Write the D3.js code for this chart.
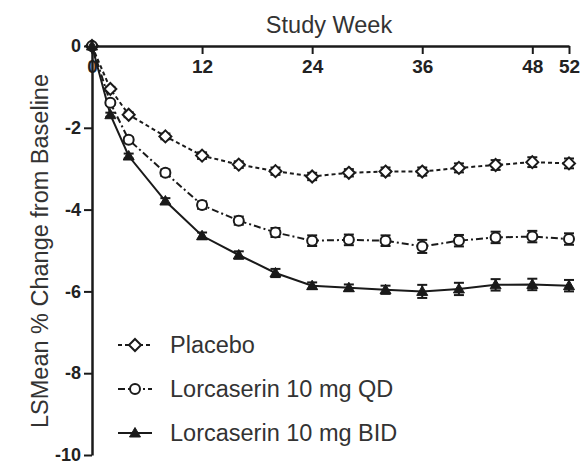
<!DOCTYPE html>
<html>
<head>
<meta charset="utf-8">
<script src="https://cdn.jsdelivr.net/npm/d3@7"></script>
<style>
  html, body { margin: 0; padding: 0; background: #fff; }
  svg { display: block; }
  text { font-family: "Liberation Sans", Arial, Helvetica, sans-serif; }
</style>
</head>
<body>
<svg id="chart" width="582" height="464"></svg>
<script>
// Study weeks at which the LS mean change was reported
const weeks = [0, 2, 4, 8, 12, 16, 20, 24, 28, 32, 36, 40, 44, 48, 52];

// LS mean % change from baseline, per treatment arm
const placebo = [0, -1.05, -1.68, -2.21, -2.68, -2.90, -3.06, -3.19, -3.10, -3.07, -3.07, -2.98, -2.91, -2.84, -2.87];
const qd      = [0, -1.39, -2.29, -3.10, -3.89, -4.27, -4.56, -4.76, -4.74, -4.76, -4.90, -4.76, -4.68, -4.66, -4.72];
const bid     = [0, -1.68, -2.69, -3.79, -4.64, -5.11, -5.55, -5.86, -5.91, -5.96, -6.00, -5.94, -5.84, -5.83, -5.86];

// Standard errors for the error bars
const placeboSE = [0, 0.05, 0.06, 0.07, 0.08, 0.08, 0.09, 0.09, 0.09, 0.10, 0.10, 0.11, 0.12, 0.12, 0.12];
const qdSE      = [0, 0.05, 0.06, 0.08, 0.09, 0.10, 0.11, 0.13, 0.13, 0.13, 0.16, 0.14, 0.14, 0.14, 0.14];
const bidSE     = [0, 0.05, 0.06, 0.07, 0.08, 0.09, 0.10, 0.08, 0.08, 0.10, 0.16, 0.15, 0.14, 0.14, 0.14];

const seriesNames = ["Placebo", "Lorcaserin 10 mg QD", "Lorcaserin 10 mg BID"];
const xTicks = [0, 12, 24, 36, 48, 52];
const yTicks = [0, -2, -4, -6, -8, -10];

const xTitle = "Study Week";
const yTitle = "LSMean % Change from  Baseline";

const svg = d3.select("#chart");
const ink = "#1a1a1a";

const x = d3.scaleLinear().domain([0, 52]).range([92, 569]);
const y = d3.scaleLinear().domain([0, -10]).range([46, 455]);

const series = [
  { name: seriesNames[0], values: placebo, se: placeboSE, dash: "4,3",     marker: "diamond" },
  { name: seriesNames[1], values: qd,      se: qdSE,      dash: "7,3,2,3", marker: "circle" },
  { name: seriesNames[2], values: bid,     se: bidSE,     dash: null,      marker: "triangle" }
];

function drawMarker(g, type, cx, cy) {
  if (type === "diamond") {
    g.append("path")
      .attr("d", `M${cx},${cy - 6}L${cx + 6},${cy}L${cx},${cy + 6}L${cx - 6},${cy}Z`)
      .attr("fill", "#fff").attr("stroke", ink).attr("stroke-width", 2);
  } else if (type === "circle") {
    g.append("circle").attr("cx", cx).attr("cy", cy).attr("r", 5)
      .attr("fill", "#fff").attr("stroke", ink).attr("stroke-width", 2);
  } else {
    g.append("path")
      .attr("d", `M${cx},${cy - 5.5}L${cx + 5.5},${cy + 4}L${cx - 5.5},${cy + 4}Z`)
      .attr("fill", ink).attr("stroke", ink).attr("stroke-width", 1);
  }
}

// Axes: week axis along the top with ticks pointing into the plot
const xAxis = d3.axisBottom(x).tickValues(xTicks).tickFormat(d => String(d))
  .tickSizeInner(8).tickSizeOuter(0).tickPadding(6);
const gx = svg.append("g").attr("transform", "translate(0,46)").call(xAxis);
gx.select(".domain").attr("stroke", ink).attr("stroke-width", 2.5);
gx.selectAll(".tick line").attr("stroke", ink).attr("stroke-width", 2);
gx.selectAll(".tick text").attr("fill", "#222").attr("font-size", 19).attr("font-weight", "bold")
  .attr("font-family", "Liberation Sans, Arial, sans-serif");

const yAxis = d3.axisLeft(y).tickValues(yTicks).tickFormat(d => String(d))
  .tickSizeInner(8).tickSizeOuter(0).tickPadding(3);
const gy = svg.append("g").attr("transform", "translate(92,0)").call(yAxis);
gy.select(".domain").attr("stroke", ink).attr("stroke-width", 2.5);
gy.selectAll(".tick line").attr("stroke", ink).attr("stroke-width", 2);
gy.selectAll(".tick text").attr("fill", "#222").attr("font-size", 18).attr("font-weight", "bold")
  .attr("font-family", "Liberation Sans, Arial, sans-serif");

// Axis titles
svg.append("text").attr("x", 329).attr("y", 33).attr("text-anchor", "middle")
  .attr("font-size", 23.5).attr("fill", "#333").text(xTitle);
svg.append("text").attr("transform", "translate(48,251) rotate(-90)").attr("text-anchor", "middle")
  .attr("font-size", 23.5).attr("fill", "#333").text(yTitle);

// Lines, error bars and markers
const line = d3.line().x((d, i) => x(weeks[i])).y(d => y(d));
const plot = svg.append("g");

series.forEach(s => {
  plot.append("path").datum(s.values).attr("d", line)
    .attr("fill", "none").attr("stroke", ink).attr("stroke-width", 2)
    .attr("stroke-dasharray", s.dash);
});

series.forEach(s => {
  const g = plot.append("g");
  s.values.forEach((v, i) => {
    const cx = x(weeks[i]);
    const lo = y(v - s.se[i]), hi = y(v + s.se[i]);
    if (s.se[i] > 0) {
      g.append("line").attr("x1", cx).attr("x2", cx).attr("y1", lo).attr("y2", hi)
        .attr("stroke", ink).attr("stroke-width", 2);
      [lo, hi].forEach(yy => g.append("line").attr("x1", cx - 5).attr("x2", cx + 5)
        .attr("y1", yy).attr("y2", yy).attr("stroke", ink).attr("stroke-width", 2));
    }
    drawMarker(g, s.marker, cx, y(v));
  });
});

// Legend
const legendY = [345, 389, 433];
series.forEach((s, i) => {
  const g = svg.append("g");
  g.append("line").attr("x1", 118).attr("x2", 152).attr("y1", legendY[i]).attr("y2", legendY[i])
    .attr("stroke", ink).attr("stroke-width", 2).attr("stroke-dasharray", s.dash);
  drawMarker(g, s.marker, 135, legendY[i]);
  g.append("text").attr("x", 170).attr("y", legendY[i]).attr("dy", "0.36em")
    .attr("font-size", 23.5).attr("fill", "#333").text(s.name);
});
</script>
</body>
</html>
